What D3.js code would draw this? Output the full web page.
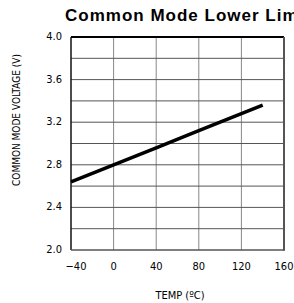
<!DOCTYPE html>
<html lang="en">
<head>
<meta charset="utf-8">
<script src="https://d3js.org/d3.v7.min.js"></script>
<style>
  body { margin: 0; background: #fff; overflow: hidden; }
  svg { display: block; }
  .narrow { font-family: "Liberation Sans Narrow", "Arial Narrow", "DejaVu Sans Condensed", sans-serif; }
</style>
</head>
<body>
<svg id="chart" width="294" height="303"></svg>
<script>
// values
var temps = [-40, 0, 40, 80, 120, 140];
var volts = [2.64, 2.80, 2.96, 3.12, 3.28, 3.36];
var xTicks = [-40, 0, 40, 80, 120, 160];
var yTicks = [2.0, 2.4, 2.8, 3.2, 3.6, 4.0];
var yGrid = [2.2, 2.4, 2.6, 2.8, 3.0, 3.2, 3.4, 3.6, 3.8];

var pL = 71, pR = 284, pT = 37, pB = 250;

var svg = d3.select("#chart");

var x = d3.scaleLinear().domain([-40, 160]).range([pL, pR]);
var y = d3.scaleLinear().domain([2.0, 4.0]).range([pB, pT]);

// grid
svg.selectAll("line.vg")
  .data(xTicks.slice(1, -1))
  .enter().append("line")
  .attr("x1", function(d) { return x(d); })
  .attr("x2", function(d) { return x(d); })
  .attr("y1", pT).attr("y2", pB)
  .attr("stroke", "#888").attr("stroke-width", 1);

svg.selectAll("line.hg")
  .data(yGrid)
  .enter().append("line")
  .attr("x1", pL).attr("x2", pR)
  .attr("y1", function(d) { return y(d); })
  .attr("y2", function(d) { return y(d); })
  .attr("stroke", "#555").attr("stroke-width", 1);

// frame
svg.append("line").attr("x1", pL).attr("x2", pR).attr("y1", pT).attr("y2", pT)
  .attr("stroke", "#000").attr("stroke-width", 2);
svg.append("line").attr("x1", pL).attr("x2", pL).attr("y1", pT).attr("y2", pB)
  .attr("stroke", "#111").attr("stroke-width", 1.5);
svg.append("line").attr("x1", pR).attr("x2", pR).attr("y1", pT).attr("y2", pB + 0.75)
  .attr("stroke", "#555").attr("stroke-width", 2);
svg.append("line").attr("x1", pL).attr("x2", pR).attr("y1", pB).attr("y2", pB)
  .attr("stroke", "#555").attr("stroke-width", 1.5);

// data line
var line = d3.line()
  .x(function(d, i) { return x(temps[i]); })
  .y(function(d) { return y(d); });
svg.append("path")
  .attr("d", line(volts))
  .attr("fill", "none")
  .attr("stroke", "#000")
  .attr("stroke-width", 3.5);

// tick labels
svg.selectAll("text.yt")
  .data(yTicks)
  .enter().append("text")
  .attr("class", "narrow")
  .attr("x", 62)
  .attr("y", function(d) { return y(d) + 3; })
  .attr("text-anchor", "end")
  .attr("font-size", 11)
  .text(function(d) { return d.toFixed(1); });

svg.selectAll("text.xt")
  .data(xTicks)
  .enter().append("text")
  .attr("class", "narrow")
  .attr("x", function(d) { return d < 0 ? x(d) + 5 : x(d); })
  .attr("y", 270)
  .attr("text-anchor", "middle")
  .attr("font-size", 11)
  .text(function(d) { return d < 0 ? "\u2212" + Math.abs(d) : d; });

// axis titles
svg.append("text")
  .attr("class", "narrow")
  .attr("transform", "translate(20,120) rotate(-90)")
  .attr("text-anchor", "middle")
  .attr("font-size", 10)
  .text("COMMON MODE VOLTAGE (V)");

svg.append("text")
  .attr("class", "narrow")
  .attr("x", 180).attr("y", 299)
  .attr("text-anchor", "middle")
  .attr("font-size", 11)
  .text("TEMP (\u00BAC)");

// title (runs off the right edge, as in the original)
svg.append("text")
  .attr("x", 65).attr("y", 21)
  .attr("font-family", "Liberation Sans, Arial, sans-serif")
  .attr("font-weight", "bold")
  .attr("font-size", 17)
  .attr("letter-spacing", 1.0)
  .text("Common Mode Lower Limit");
</script>
</body>
</html>
